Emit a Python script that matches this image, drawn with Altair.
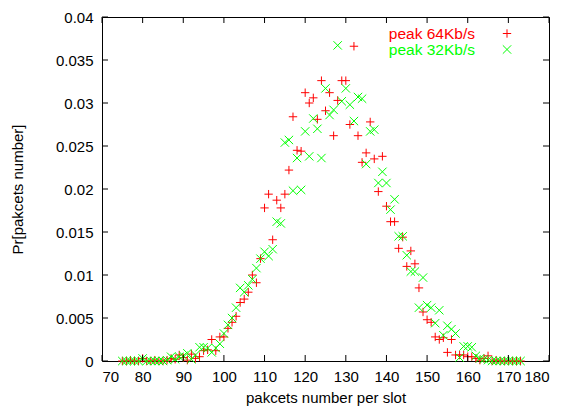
import altair as alt
import pandas as pd

slots = [75, 76, 77, 78, 79, 80, 81, 82, 83, 84, 85, 86, 87, 88, 89, 90, 91, 92, 93, 94,
         95, 96, 97, 98, 99, 100, 101, 102, 103, 104, 105, 106, 107, 108, 109, 110, 111, 112, 113, 114,
         115, 116, 117, 118, 119, 120, 121, 122, 123, 124, 125, 126, 127, 128, 129, 130, 131, 132, 133, 134,
         135, 136, 137, 138, 139, 140, 141, 142, 143, 144, 145, 146, 147, 148, 149, 150, 151, 152, 153, 154,
         155, 156, 157, 158, 159, 160, 161, 162, 163, 164, 165, 166, 167, 168, 169, 170, 171, 172, 173]

peak64 = [0, 0, 0.0001, 0, 0, 0.0003, 0, 0, 0.0001, 0, 0, 0.0001, 0.0003, 0.0002, 0.0007, 0.0004, 0.0001, 0.0008, 0.0003, 0.0005,
          0.0012, 0.0013, 0.0025, 0.0012, 0.0028, 0.0028, 0.0038, 0.0045, 0.0052, 0.0068, 0.0072, 0.0080, 0.0100, 0.0091, 0.0119, 0.0178, 0.0194, 0.0141, 0.0187, 0.0178,
          0.0194, 0.0222, 0.0284, 0.0245, 0.0244, 0.0312, 0.0300, 0.0306, 0.0281, 0.0326, 0.0291, 0.0312, 0.0262, 0.0303, 0.0326, 0.0326, 0.0275, 0.0366, 0.0262, 0.0231,
          0.0242, 0.0278, 0.0235, 0.0197, 0.0238, 0.0180, 0.0162, 0.0162, 0.0131, 0.0144, 0.0110, 0.0128, 0.0113, 0.0085, 0.0057, 0.0048, 0.0045, 0.0028, 0.0025, 0.0027,
          0.0010, 0.0025, 0.0007, 0.0007, 0.0007, 0.0005, 0.0005, 0.0003, 0.0001, 0.0003, 0.0006, 0, 0.0001, 0, 0, 0, 0, 0, 0]

peak32 = [0, 0, 0, 0, 0, 0.0003, 0, 0, 0, 0, 0, 0.0001, 0.0005, 0.0002, 0.0005, 0.0006, 0.0009, 0.0002, 0.0007, 0.0016,
          0.0016, 0.0015, 0.0010, 0.0015, 0.0020, 0.0032, 0.0042, 0.0050, 0.0062, 0.0085, 0.0080, 0.0088, 0.0095, 0.0108, 0.0119, 0.0127, 0.0122, 0.0130, 0.0162, 0.0160,
          0.0254, 0.0257, 0.0198, 0.0236, 0.0199, 0.0267, 0.0238, 0.0282, 0.0270, 0.0236, 0.0317, 0.0286, 0.0292, 0.0367, 0.0302, 0.0317, 0.0298, 0.0279, 0.0307, 0.0305,
          0.0229, 0.0267, 0.0269, 0.0207, 0.0220, 0.0207, 0.0176, 0.0188, 0.0145, 0.0145, 0.0123, 0.0104, 0.0104, 0.0062, 0.0097, 0.0065, 0.0062, 0.0044, 0.0059, 0.0030,
          0.0041, 0.0037, 0.0032, 0.0004, 0.0017, 0.0017, 0.0016, 0.0006, 0.0003, 0.0002, 0.0001, 0, 0, 0, 0, 0, 0, 0, 0]

series_names = ["peak 64Kb/s", "peak 32Kb/s"]
series_colors = ["#ff0000", "#00ff00"]
PLUS = "M-1,0L1,0M0,-1L0,1"
TIMES = "M-1,-1L1,1M-1,1L1,-1"
series_shapes = [PLUS, TIMES]

x_ticks = [70, 80, 90, 100, 110, 120, 130, 140, 150, 160, 170, 180]
y_ticks = [0, 0.005, 0.01, 0.015, 0.02, 0.025, 0.03, 0.035, 0.04]

W, H = 447, 344
FONT = "Liberation Sans"
FS = 15

xscale = alt.Scale(domain=[70, 180], nice=False, zero=False)
yscale = alt.Scale(domain=[0, 0.04], nice=False, zero=False)
axis_style = dict(ticks=False, domain=False, grid=False,
                  labelFont=FONT, labelFontSize=FS, labelColor="black",
                  titleFont=FONT, titleFontSize=FS, titleColor="black", titleFontWeight="normal")
xaxis = alt.Axis(values=x_ticks, format="d", title="pakcets number per slot",
                 labelPadding=8, titlePadding=6, **axis_style)
yaxis = alt.Axis(values=y_ticks, format="~g", title="Pr[pakcets number]",
                 labelPadding=9, titlePadding=30, **axis_style)

layers = []
for i, vals in enumerate([peak64, peak32]):
    df = pd.DataFrame({"x": slots, "y": vals})
    pts = alt.Chart(df).mark_point(shape=series_shapes[i], filled=False, size=70,
                                   strokeWidth=1, color=series_colors[i], opacity=1).encode(
        x=alt.X("x:Q", scale=xscale, axis=xaxis, title="pakcets number per slot"),
        y=alt.Y("y:Q", scale=yscale, axis=yaxis, title="Pr[pakcets number]"))
    layers.append(pts)

# inward ticks (gnuplot style) on all four sides
xt = pd.DataFrame({"x": x_ticks})
yt = pd.DataFrame({"y": y_ticks})
tick_style = dict(color="black", strokeWidth=1)
xenc = alt.X("x:Q", scale=xscale, axis=xaxis, title="pakcets number per slot")
yenc = alt.Y("y:Q", scale=yscale, axis=yaxis, title="Pr[pakcets number]")
layers.append(alt.Chart(xt).mark_rule(**tick_style).encode(
    x=xenc, y=alt.value(H), y2=alt.value(H - 6)))
layers.append(alt.Chart(xt).mark_rule(**tick_style).encode(
    x=xenc, y=alt.value(0), y2=alt.value(6)))
layers.append(alt.Chart(yt).mark_rule(**tick_style).encode(
    y=yenc, x=alt.value(0), x2=alt.value(6)))
layers.append(alt.Chart(yt).mark_rule(**tick_style).encode(
    y=yenc, x=alt.value(W - 6), x2=alt.value(W)))

# key in the top-right corner
for i in range(2):
    ly = 16.5 + 16 * i
    kd = pd.DataFrame({"label": [series_names[i]]})
    layers.append(alt.Chart(kd).mark_text(align="right", baseline="middle", font=FONT,
                                          fontSize=15.5, color=series_colors[i]).encode(
        text="label:N", x=alt.value(373), y=alt.value(ly)))
    layers.append(alt.Chart(kd).mark_point(shape=series_shapes[i], filled=False, size=70,
                                           strokeWidth=1, color=series_colors[i], opacity=1).encode(
        x=alt.value(405), y=alt.value(ly)))

chart = alt.layer(*layers).properties(
    width=W, height=H,
    background="white",
    autosize=alt.AutoSizeParams(type="none"),
    padding={"left": 102, "top": 17, "right": 18, "bottom": 55},
).configure_view(stroke="black", strokeWidth=1)

chart.save("out.html", embed_options={"renderer": "svg", "actions": False})
